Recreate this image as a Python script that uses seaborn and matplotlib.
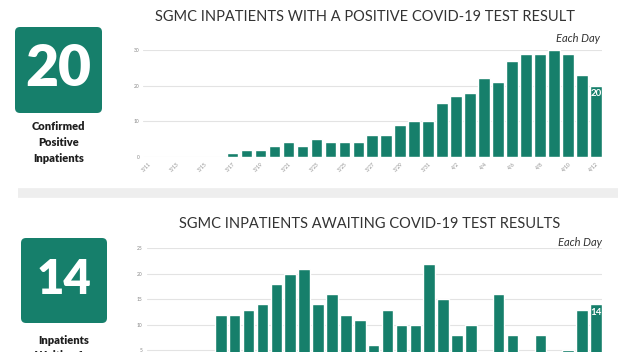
import matplotlib
matplotlib.use("Agg")
import matplotlib.pyplot as plt
import seaborn as sns
from matplotlib.patches import FancyBboxPatch
from matplotlib.lines import Line2D

# ---------------- data ----------------
dates = ["3/11", "3/12", "3/13", "3/14", "3/15", "3/16", "3/17", "3/18", "3/19", "3/20",
         "3/21", "3/22", "3/23", "3/24", "3/25", "3/26", "3/27", "3/28", "3/29", "3/30",
         "3/31", "4/1", "4/2", "4/3", "4/4", "4/5", "4/6", "4/7", "4/8", "4/9",
         "4/10", "4/11", "4/12"]
positive = [0, 0, 0, 0, 0, 0, 1, 2, 2, 3, 4, 3, 5, 4, 4, 4, 6,
            6, 9, 10, 10, 15, 17, 18, 22, 21, 27, 29, 29, 30, 29, 23, 20]
awaiting = [0, 0, 0, 0, 0, 12, 12, 13, 14, 18, 20, 21, 14, 16, 12, 11, 6,
            13, 10, 10, 22, 15, 8, 10, 4, 16, 8, 3, 8, 4, 5, 13, 14]
top_title = "SGMC INPATIENTS WITH A POSITIVE COVID-19 TEST RESULT"
bot_title = "SGMC INPATIENTS AWAITING COVID-19 TEST RESULTS"
top_yticks = [0, 10, 20, 30]
bot_yticks = [0, 5, 10, 15, 20, 25]
top_big = "20"
bot_big = "14"
top_caption = "Confirmed\nPositive\nInpatients"
bot_caption = "Inpatients\nWaiting for\nResults"

GREEN = "#167f6b"
W, H = 622, 352

sns.set_style("white")
plt.rcParams["font.family"] = ["Lato", "DejaVu Sans"]

fig = plt.figure(figsize=(W / 100, H / 100), dpi=100)


def fx(px):
    return px / W


def fy(py):
    return 1 - py / H


def style_axis(ax, yticks, ylim, xlim, show_x=True):
    ax.set_ylim(*ylim)
    ax.set_xlim(*xlim)
    ax.set_yticks(yticks)
    ax.set_yticklabels([str(t) for t in yticks], fontsize=3.5, color="#888888")
    ax.set_xticks(range(0, len(dates), 2))
    if show_x:
        ax.set_xticklabels(dates[::2], rotation=45, ha="right", va="top",
                           rotation_mode="anchor", fontsize=3.5, color="#888888")
    else:
        ax.set_xticklabels([])
    ax.tick_params(axis="both", length=0, pad=3)
    ax.yaxis.grid(True, color="#e3e3e3", linewidth=0.8)
    ax.xaxis.grid(False)
    ax.set_axisbelow(True)
    for s in ax.spines.values():
        s.set_visible(False)
    ax.set_xlabel("")
    ax.set_ylabel("")
    ax.patch.set_alpha(0)


# ---------------- top chart ----------------
ax1 = fig.add_axes([fx(143.3), fy(156.7), fx(458.4), (156.7 - 50) / H])
sns.barplot(x=dates, y=positive, color=GREEN, saturation=1, width=0.83, ax=ax1)
style_axis(ax1, top_yticks, (0, 30), (-0.38, 32.41))
ax1.annotate(str(positive[-1]), (len(dates) - 1, positive[-1]), xytext=(0, -2.5),
             textcoords="offset points", ha="center", va="top", color="white",
             fontsize=7, fontweight="bold")

# ---------------- bottom chart (lower part cropped by the figure edge) ----------------
ax2 = fig.add_axes([fx(146.7), fy(375.8), fx(455), (375.8 - 248.3) / H])
sns.barplot(x=dates, y=awaiting, color=GREEN, saturation=1, width=0.83, ax=ax2)
style_axis(ax2, bot_yticks, (0, 25), (-0.33, 32.41), show_x=False)
ax2.annotate(str(awaiting[-1]), (len(dates) - 1, awaiting[-1]), xytext=(0, -2.5),
             textcoords="offset points", ha="center", va="top", color="white",
             fontsize=7, fontweight="bold")

# ---------------- titles ----------------
fig.text(fx(365), fy(17), top_title, ha="center", va="center", fontsize=10.5,
         color="#333333")
fig.text(fx(370), fy(224), bot_title, ha="center", va="center", fontsize=10.5,
         color="#333333")
fig.text(fx(600), fy(38), "Each Day", ha="right", va="center", fontsize=8,
         style="italic", color="#333333")
fig.text(fx(602), fy(242.5), "Each Day", ha="right", va="center", fontsize=8,
         style="italic", color="#333333")

# ---------------- KPI boxes ----------------
box1 = FancyBboxPatch((0.15, (H - 113) / 100), 0.87, 0.86,
                      boxstyle="round,pad=0,rounding_size=0.05",
                      transform=fig.dpi_scale_trans, facecolor=GREEN,
                      edgecolor="none")
fig.patches.append(box1)
fig.text(fx(58.5), fy(69), top_big, ha="center", va="center", fontsize=41,
         fontweight="heavy", color="white")
fig.text(fx(58.5), fy(142.5), top_caption, ha="center", va="center", fontsize=8,
         fontweight="heavy", color="#1e1e1e", linespacing=1.5)

box2 = FancyBboxPatch((0.21, (H - 323) / 100), 0.86, 0.85,
                      boxstyle="round,pad=0,rounding_size=0.05",
                      transform=fig.dpi_scale_trans, facecolor=GREEN,
                      edgecolor="none")
fig.patches.append(box2)
fig.text(fx(64), fy(279.5), bot_big, ha="center", va="center", fontsize=34,
         fontweight="heavy", color="white")
fig.text(fx(64), fy(334.5), bot_caption, ha="center", va="top", fontsize=8,
         fontweight="heavy", color="#1e1e1e", linespacing=1.5)

# ---------------- separator ----------------
fig.add_artist(Line2D([fx(18), fx(618)], [fy(192.5), fy(192.5)],
                      transform=fig.transFigure, color="#eeeeee", linewidth=7,
                      solid_capstyle="butt"))

fig.savefig("out.png", dpi=100)
